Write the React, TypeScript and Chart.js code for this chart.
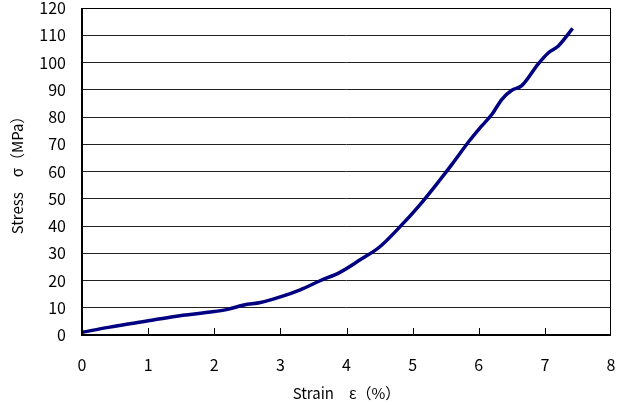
import React, { useEffect, useRef } from "react";
import { Chart, registerables } from "chart.js";

Chart.register(...registerables);

const strain: number[] = [0, 0.4, 1.0, 1.4, 2.0, 2.2, 2.45, 2.7, 3.0, 3.3, 3.6, 3.9, 4.2, 4.5, 4.8, 5.1, 5.4, 5.6, 5.85, 6.0, 6.2, 6.35, 6.5, 6.65, 6.9, 7.05, 7.2, 7.42];
const stress: number[] = [1, 2.8, 5.2, 6.8, 8.6, 9.4, 11, 11.9, 14, 16.6, 19.9, 23, 27.5, 32.3, 39.5, 47.5, 56.5, 62.8, 71, 75.5, 81, 86.5, 89.8, 91.5, 99.5, 103.5, 106, 112.5];
const xTicks: number[] = [0, 1, 2, 3, 4, 5, 6, 7, 8];
const yTicks: number[] = [0, 10, 20, 30, 40, 50, 60, 70, 80, 90, 100, 110, 120];
const xTitle = "Strain\u3000ε（%）";
const yTitle = "Stress\u3000σ（MPa）";

const FONT = "'Noto Sans CJK JP', 'Liberation Sans', sans-serif";

const framePlugin = {
  id: "frame",
  afterDatasetsDraw(chart: any) {
    const { ctx, chartArea } = chart;
    const xs = chart.scales.x;
    ctx.save();
    ctx.strokeStyle = "#000";
    ctx.lineWidth = 1;
    ctx.strokeRect(chartArea.left + 0.5, chartArea.top + 0.5, chartArea.right - chartArea.left - 1, chartArea.bottom - chartArea.top);
    ctx.lineWidth = 2;
    ctx.beginPath();
    ctx.moveTo(chartArea.left, chartArea.top);
    ctx.lineTo(chartArea.left, chartArea.bottom);
    ctx.lineTo(chartArea.right, chartArea.bottom);
    ctx.stroke();
    ctx.lineWidth = 1;
    ctx.beginPath();
    for (const v of xTicks.slice(1, -1)) {
      const px = Math.round(xs.getPixelForValue(v)) + 0.5;
      ctx.moveTo(px, chartArea.bottom);
      ctx.lineTo(px, chartArea.bottom - 7);
    }
    ctx.stroke();
    ctx.restore();
  },
};

export default function App() {
  const ref = useRef<HTMLCanvasElement>(null);
  useEffect(() => {
    if (!ref.current) return;
    const chart = new Chart(ref.current, {
      type: "line",
      data: {
        datasets: [
          {
            data: strain.map((x, i) => ({ x, y: stress[i] })),
            borderColor: "#000080",
            borderWidth: 3.5,
            pointRadius: 0,
            cubicInterpolationMode: "monotone",
            fill: false,
          },
        ],
      },
      options: {
        animation: false,
        responsive: false,
        devicePixelRatio: 1,
        layout: { padding: { left: 0, top: 8, right: 6, bottom: 0 } },
        plugins: { legend: { display: false }, tooltip: { enabled: false } },
        scales: {
          x: {
            type: "linear",
            min: 0,
            max: 8,
            afterBuildTicks: (s: any) => { s.ticks = xTicks.map((v) => ({ value: v })); },
            afterFit: (s: any) => { s.height = 70; s.paddingLeft = 0; s.paddingRight = 0; s.paddingTop = 0; s.paddingBottom = 0; },
            grid: { display: false, drawTicks: false },
            border: { display: false },
            ticks: { color: "#000", padding: 20, maxRotation: 0, font: { family: FONT, size: 16 } },
            title: { display: true, text: xTitle, color: "#000", padding: { top: 4, bottom: 3 }, font: { family: FONT, size: 15 } },
          },
          y: {
            type: "linear",
            min: 0,
            max: 120,
            afterBuildTicks: (s: any) => { s.ticks = yTicks.map((v) => ({ value: v })); },
            afterFit: (s: any) => { s.width = 82; s.paddingLeft = 0; s.paddingRight = 0; s.paddingTop = 0; s.paddingBottom = 0; },
            grid: { color: "#222", lineWidth: 1, drawTicks: false },
            border: { display: false },
            ticks: { color: "#000", padding: 16, font: { family: FONT, size: 16 } },
            title: { display: true, text: yTitle, color: "#000", padding: { top: 8, bottom: 4 }, font: { family: FONT, size: 15 } },
          },
        },
      },
      plugins: [framePlugin],
    });
    return () => chart.destroy();
  }, []);
  return (
    <div style={{ position: "fixed", left: 0, top: 0, width: 617, height: 405, background: "#fff" }}>
      <canvas ref={ref} width={617} height={405} style={{ display: "block" }} />
    </div>
  );
}
